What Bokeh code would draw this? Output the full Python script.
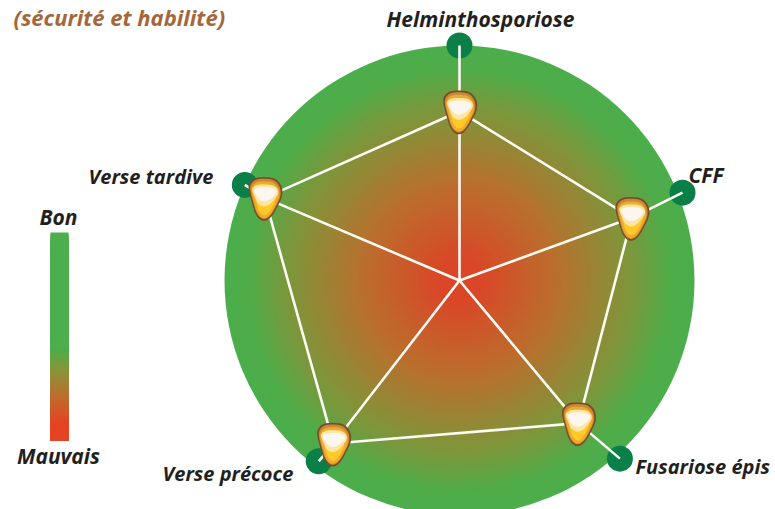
import numpy as np
from bokeh.plotting import figure
from bokeh.models import Range1d
from bokeh.core.properties import value
from bokeh.embed import file_html
from bokeh.resources import INLINE

# --- data ---
axes_names = ["Helminthosporiose", "CFF", "Fusariose épis", "Verse précoce", "Verse tardive"]
axes_angles = [0.0, 68.5, 138.0, 217.9, 294.0]      # degrees clockwise from the top
axes_outer = [1.00, 1.02, 1.02, 0.975, 1.00]        # axis end (green dot)
score_angles = [0.0, 70.0, 140.2, 217.7, 293.0]     # grain direction
scores = [0.72, 0.78, 0.79, 0.877, 0.90]            # grain position

label_x = [480, 688, 635, 162, 88]
label_y = [18, 174, 466, 473, 176]
label_align = ["center", "left", "left", "left", "left"]
label_sizes = ["21px", "21px", "20px", "20px", "20px"]

scale_labels = ["Bon", "Mauvais"]
scale_label_x = [58, 58]
scale_label_y = [216, 455]

title_text = "(sécurité et habilité)"

stop_pos = [0.00, 0.10, 0.42, 0.74, 0.90, 1.00]
stop_col = [(222, 68, 40), (218, 72, 40), (186, 112, 46), (124, 152, 60), (80, 172, 74), (76, 174, 76)]

bar_pos = [0.00, 0.56, 0.66, 0.80, 0.92, 1.00]      # top to bottom
bar_col = [(76, 174, 76), (76, 174, 76), (134, 150, 58), (194, 106, 44), (228, 68, 36), (228, 68, 36)]

# grain outline, offsets relative to its centre
grain_dx = [-15, -10, -2, 10, 16, 18, 17, 14, 10, 5, -2, -9, -13, -17]
grain_dy = [-16, -20, -21, -20, -14, -7, 0, 6, 14, 21, 24, 18, 5, -10]
# --------

CX, CY, R = 459.0, 280.0, 235.0


def ramp(pos, col, n):
    t = np.linspace(0, 1, n)
    arr = np.array(col, float)
    rgb = [np.interp(t, pos, arr[:, k]) for k in range(3)]
    return t, ["#%02x%02x%02x" % (int(a), int(b), int(c)) for a, b, c in zip(*rgb)]


def smooth(xs, ys, rounds=3):
    a = np.column_stack([xs, ys]).astype(float)
    for _ in range(rounds):
        b = np.roll(a, -1, axis=0)
        a = np.column_stack([0.75 * a + 0.25 * b, 0.25 * a + 0.75 * b]).reshape(-1, 2)
    return a[:, 0], a[:, 1]


p = figure(width=775, height=509, output_backend="svg", toolbar_location=None,
           x_range=Range1d(0, 775), y_range=Range1d(509, 0), min_border=0,
           outline_line_color=None, background_fill_color="white", border_fill_color="white")
p.xaxis.visible = False
p.yaxis.visible = False
p.grid.visible = False

# disc with radial gradient
t, cols = ramp(stop_pos, stop_col, 118)
p.circle(x=[CX] * len(t), y=[CY] * len(t), radius=(R * t[::-1]).tolist(),
         fill_color=cols[::-1], line_color=None)

th = np.radians(axes_angles)
dx = CX + R * np.array(axes_outer) * np.sin(th)
dy = CY - R * np.array(axes_outer) * np.cos(th)
gth = np.radians(score_angles)
gx = CX + R * np.array(scores) * np.sin(gth)
gy = CY - R * np.array(scores) * np.cos(gth)

# axis ends
p.scatter(dx.tolist(), dy.tolist(), size=26, fill_color="#0b7f48", line_color=None)

# spokes and polygon
for i in range(len(th)):
    p.line([CX, gx[i], dx[i]], [CY, gy[i], dy[i]], line_color="#fbfbf4", line_width=2.6)
p.line(gx.tolist() + [gx[0]], gy.tolist() + [gy[0]], line_color="#fbfbf4", line_width=2.6)

# grains
gdx, gdy = smooth(grain_dx, grain_dy)
layers = [
    (1.00, 1.00, 0, 0, "#7b4c28"),
    (0.90, 0.92, 0, 0, "#c98a34"),
    (0.82, 0.84, 0, 1, "#eeac2c"),
    (0.62, 0.62, 0, 3, "#ffc928"),
    (0.76, 0.50, 0, -3, "#fbe6a6"),
    (0.66, 0.32, 0, -4, "#fbf7f0"),
]
for x0, y0 in zip(gx, gy):
    for fx, fy, ox, oy, col in layers:
        p.patch((x0 + ox + gdx * fx).tolist(), (y0 + oy + gdy * fy).tolist(), fill_color=col, line_color=None)

# gradient bar
bt, bcols = ramp(bar_pos, bar_col, 104)
TOP, H = 232.0, 208.0
p.quad(left=[50] * len(bt), right=[68] * len(bt),
       top=(TOP + H * bt * (1 - 1 / len(bt))).tolist(), bottom=[TOP + H] * len(bt),
       fill_color=bcols, line_color=None)

font = value("Open Sans")
for i in range(len(axes_names)):
    p.text(x=[label_x[i]], y=[label_y[i]], text=[axes_names[i]], text_font=font, text_font_style="bold italic",
           text_font_size=label_sizes[i], text_color="#231f20", text_baseline="middle", text_align=label_align[i])
p.text(x=scale_label_x, y=scale_label_y, text=scale_labels, text_font=font, text_font_style="bold italic",
       text_font_size="21px", text_color="#231f20", text_baseline="middle", text_align="center")
p.text(x=[13], y=[1], text=[title_text], text_font=font, text_font_style="bold italic",
       text_font_size="22px", text_color="#a4673c", text_baseline="top", text_align="left")

open("out.html", "w").write(file_html(p, INLINE))
